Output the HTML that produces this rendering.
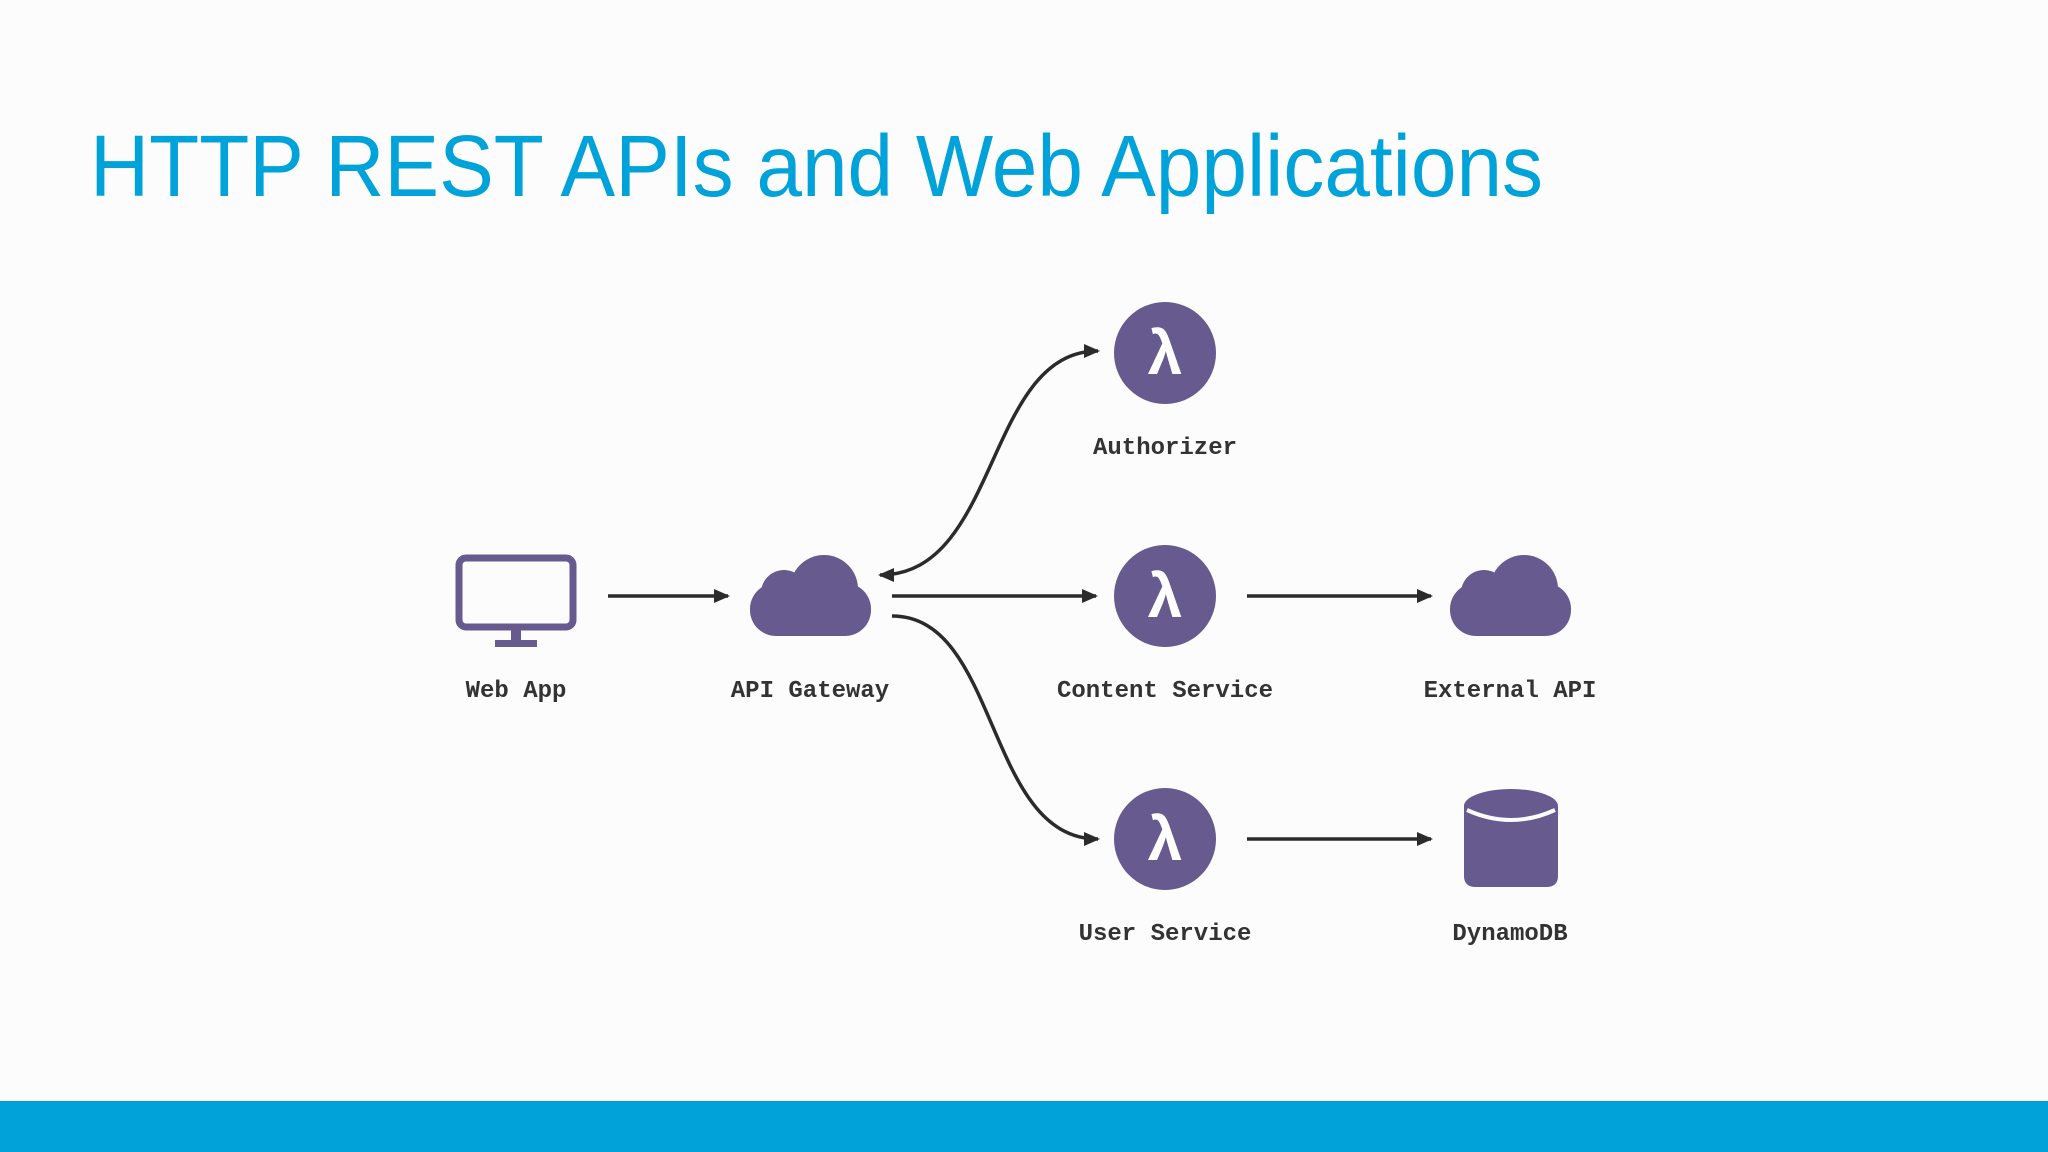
<!DOCTYPE html>
<html><head><meta charset="utf-8"><style>
html,body{margin:0;padding:0;background:#fdfcfd;}
svg{display:block}
</style></head><body>
<svg width="2048" height="1152" viewBox="0 0 2048 1152" xmlns="http://www.w3.org/2000/svg">
<defs>
<marker id="ah" markerWidth="10" markerHeight="10" refX="8" refY="5" orient="auto" markerUnits="userSpaceOnUse" viewBox="0 0 10 10">
<path d="M0,0 L10,5 L0,10 z" fill="#2b2b2b"/>
</marker>
<marker id="ah2" markerWidth="16" markerHeight="16" refX="14" refY="8" orient="auto-start-reverse" markerUnits="userSpaceOnUse" viewBox="0 0 16 16">
<path d="M0,1 L16,8 L0,15 z" fill="#2b2b2b"/>
</marker>
</defs>
<rect width="2048" height="1152" fill="#fdfcfd"/>
<text x="90" y="196" font-family="Liberation Sans, sans-serif" font-size="87" fill="#00a3d9" textLength="1453" lengthAdjust="spacingAndGlyphs">HTTP REST APIs and Web Applications</text>
<rect x="0" y="1101" width="2048" height="51" fill="#00a3d9"/>

<g fill="#665a8e">
<!-- monitor -->
<rect x="459" y="558" width="114" height="69" rx="7" fill="none" stroke="#665a8e" stroke-width="7"/>
<rect x="511" y="627" width="10" height="14" />
<rect x="495" y="640" width="42" height="7"/>
<!-- gateway cloud -->
<g transform="translate(750,555)">
<rect x="0" y="28" width="121" height="53" rx="26"/>
<circle cx="74" cy="34" r="34"/>
<circle cx="34" cy="38" r="23"/>
</g>
<!-- external cloud -->
<g transform="translate(1450,555)">
<rect x="0" y="28" width="121" height="53" rx="26"/>
<circle cx="74" cy="34" r="34"/>
<circle cx="34" cy="38" r="23"/>
</g>
<!-- lambdas -->
<circle cx="1165" cy="353" r="51"/>
<circle cx="1165" cy="596" r="51"/>
<circle cx="1165" cy="839" r="51"/>
<!-- db -->
<path d="M1464,806 L1464,876 Q1464,887 1476,887 L1546,887 Q1558,887 1558,876 L1558,806 z"/>
<ellipse cx="1511" cy="806" rx="47" ry="17"/>
<path d="M1467,810 Q1511,830 1555,810" fill="none" stroke="#fdfcfd" stroke-width="4"/>
</g>
<g font-family="Liberation Sans, sans-serif" font-size="62" font-weight="bold" fill="#fff" text-anchor="middle">
<text x="1165" y="374">λ</text>
<text x="1165" y="617">λ</text>
<text x="1165" y="860">λ</text>
</g>

<g stroke="#2b2b2b" stroke-width="3.5" fill="none">
<line x1="608" y1="596" x2="728" y2="596" marker-end="url(#ah2)"/>
<line x1="892" y1="596" x2="1096" y2="596" marker-end="url(#ah2)"/>
<line x1="1247" y1="596" x2="1431" y2="596" marker-end="url(#ah2)"/>
<line x1="1247" y1="839" x2="1431" y2="839" marker-end="url(#ah2)"/>
<path d="M880,575 C1000,575 985,351 1098,351" marker-start="url(#ah2)" marker-end="url(#ah2)"/>
<path d="M892,616 C1000,616 985,839 1098,839" marker-end="url(#ah2)"/>
</g>

<g font-family="Liberation Mono, monospace" font-weight="bold" font-size="24" fill="#333" text-anchor="middle">
<text x="516" y="697">Web App</text>
<text x="810" y="697">API Gateway</text>
<text x="1165" y="454">Authorizer</text>
<text x="1165" y="697">Content Service</text>
<text x="1510" y="697">External API</text>
<text x="1165" y="940">User Service</text>
<text x="1510" y="940">DynamoDB</text>
</g>
</svg>
</body></html>
